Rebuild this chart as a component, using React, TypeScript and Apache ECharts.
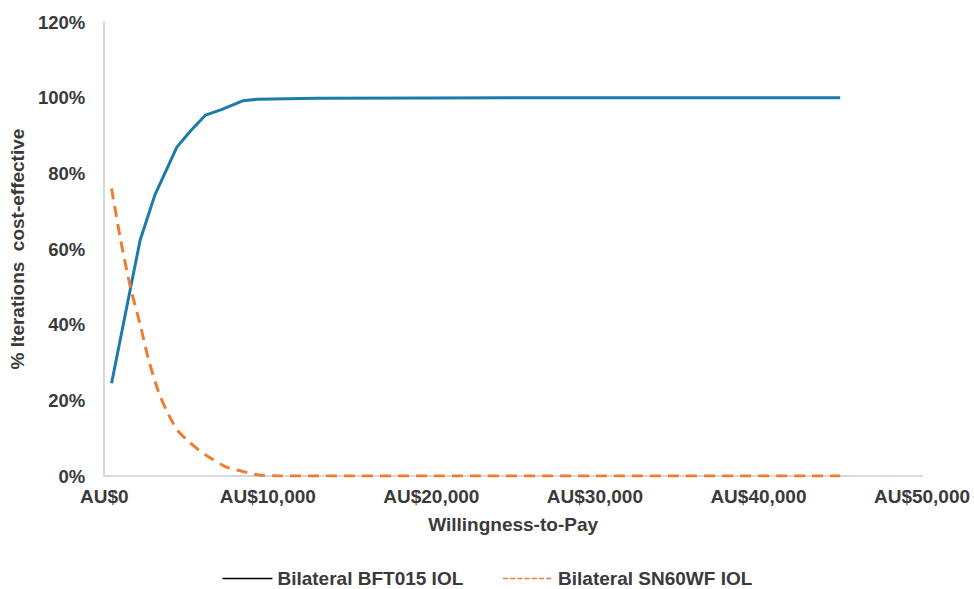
import React, { useEffect, useRef } from "react";
import * as echarts from "echarts";

const wtpBft015 = [450, 1600, 2200, 3100, 4450, 5300, 6200, 7200, 8500, 9400, 13000, 20000, 30000, 45000];
const bft015 = [24.5, 49.5, 62.4, 74.3, 87.0, 91.3, 95.4, 96.9, 99.2, 99.6, 99.85, 99.9, 100, 100];
const wtpSn60wf = [450, 1000, 1600, 2200, 2700, 3300, 3900, 4500, 5200, 5800, 6400, 7400, 8200, 9400, 10500, 13000, 20000, 30000, 45000];
const sn60wf = [76, 62.5, 50, 40, 31, 22.5, 16.5, 12, 9, 6.8, 5, 2.5, 1.5, 0.3, 0.05, 0, 0, 0, 0];
const seriesNames = ["Bilateral BFT015 IOL", "Bilateral SN60WF IOL"];
const xTicks = { min: 0, max: 50000, interval: 10000 };
const yTicks = { min: 0, max: 120, interval: 20 };

const textColor = "#3a3a3a";
const font = "'Liberation Sans', Arial, sans-serif";
const blue = "#1d7aaa";
const orange = "#ed7d31";

export default function App() {
  const ref = useRef<HTMLDivElement>(null);
  useEffect(() => {
    if (!ref.current) return;
    const chart = echarts.init(ref.current, null, { renderer: "svg" });
    const fmtMoney = (v: number) => "AU$" + v.toLocaleString("en-US");
    chart.setOption({
      animation: false,
      backgroundColor: "#ffffff",
      grid: { left: 102, right: 52, top: 22, bottom: 113, containLabel: false },
      xAxis: {
        type: "value",
        min: xTicks.min,
        max: xTicks.max,
        interval: xTicks.interval,
        name: "Willingness-to-Pay",
        nameLocation: "middle",
        nameGap: 39,
        nameTextStyle: { color: textColor, fontSize: 19, fontWeight: "bold", fontFamily: font },
        axisLine: { show: true, lineStyle: { color: "#d9d9d9", width: 2 } },
        axisTick: { show: false },
        splitLine: { show: false },
        axisLabel: {
          formatter: fmtMoney,
          color: textColor,
          fontSize: 19,
          fontWeight: "bold",
          fontFamily: font,
          margin: 11,
        },
      },
      yAxis: {
        type: "value",
        min: yTicks.min,
        max: yTicks.max,
        interval: yTicks.interval,
        name: "% Iterations  cost-effective",
        nameLocation: "middle",
        nameGap: 66,
        nameTextStyle: { color: textColor, fontSize: 19, fontWeight: "bold", fontFamily: font },
        axisLine: { show: true, lineStyle: { color: "#d9d9d9", width: 2 } },
        axisTick: { show: false },
        splitLine: { show: false },
        axisLabel: {
          formatter: (v: number) => v + "%",
          color: textColor,
          fontSize: 18.5,
          fontWeight: "bold",
          fontFamily: font,
          margin: 19,
        },
      },
      legend: {
        top: 564,
        left: "center",
        itemWidth: 50,
        itemHeight: 4,
        itemGap: 39,
        textStyle: { color: textColor, fontSize: 19, fontWeight: "bold", fontFamily: font },
        data: [
          {
            name: seriesNames[0],
            itemStyle: { color: "rgba(0,0,0,0)", borderWidth: 0 },
            lineStyle: { color: "#000000", width: 1.5, type: "solid" },
          },
          {
            name: seriesNames[1],
            itemStyle: { color: "rgba(0,0,0,0)", borderWidth: 0 },
            lineStyle: { color: orange, width: 1.5, type: [5, 2.2] },
          },
        ],
      },
      series: [
        {
          name: seriesNames[0],
          type: "line",
          data: wtpBft015.map((x, i) => [x, bft015[i]]),
          symbol: "none",
          showSymbol: false,
          lineStyle: { color: blue, width: 3 },
          itemStyle: { color: blue },
        },
        {
          name: seriesNames[1],
          type: "line",
          data: wtpSn60wf.map((x, i) => [x, sn60wf[i]]),
          symbol: "none",
          showSymbol: false,
          smooth: 0.3,
          lineStyle: { color: orange, width: 3, type: [11, 7] },
          itemStyle: { color: orange },
        },
      ],
    });
    return () => chart.dispose();
  }, []);
  return (
    <div
      ref={ref}
      style={{ position: "fixed", left: 0, top: 0, width: 974, height: 589, background: "#fff" }}
    />
  );
}
